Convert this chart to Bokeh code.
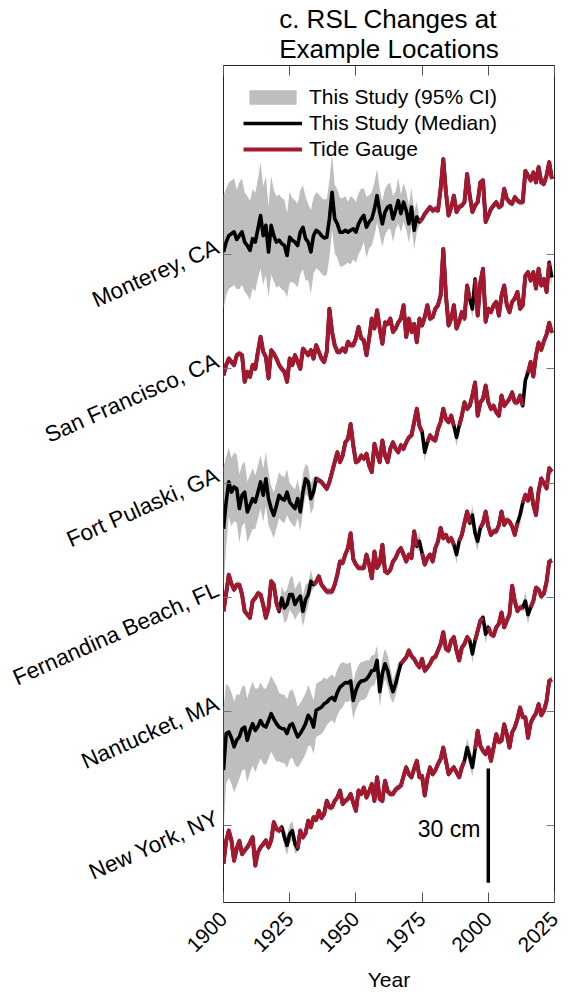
import numpy as np
from math import pi, radians
from bokeh.plotting import figure
from bokeh.models import Range1d, LinearAxis, FixedTicker, Label, Legend, LegendItem
from bokeh.embed import file_html
from bokeh.resources import INLINE

# ---------------- data ----------------
years = list(range(1900, 2025))
x_ticks = [1900, 1925, 1950, 1975, 2000, 2025]
locations = ["Monterey, CA", "San Francisco, CA", "Fort Pulaski, GA",
             "Fernandina Beach, FL", "Nantucket, MA", "New York, NY"]
offsets_cm = [150, 120, 90, 60, 30, 0]

# RSL (cm, relative to each location's baseline), 1900-2024
monterey_rsl = [
    0.7, 3.3, 5.0, 5.5, 6.0, 4.0, 5.0, 6.0, 3.3, 2.4,
    1.1, 4.2, 3.3, 6.8, 10.3, 5.0, 7.7, 0.7, 7.7, 5.0,
    3.3, 3.8, 2.9, 2.4, -0.2, 4.6, 3.8, 3.3, 2.4, 5.9,
    7.2, 4.2, 3.3, 0.7, 5.0, 6.4, 5.9, 5.0, 4.4, 4.6,
    9.4, 16.4, 9.4, 8.1, 5.9, 5.9, 6.4, 5.9, 6.4, 6.8,
    5.9, 8.1, 9.4, 10.3, 7.2, 8.6, 9.4, 12.0, 15.5, 11.2,
    8.1, 11.2, 12.5, 12.9, 9.4, 11.6, 14.2, 10.8, 13.8, 11.6,
    8.1, 12.5, 6.4, 9.9, 8.6, 9.4, 10.7, 11.6, 12.5, 11.6,
    12.0, 11.6, 17.3, 25.1, 16.4, 10.3, 12.5, 15.5, 11.2, 12.5,
    12.9, 13.8, 21.2, 15.5, 11.2, 12.9, 13.8, 19.0, 19.5, 8.6,
    10.3, 12.0, 12.9, 13.8, 12.5, 12.9, 17.3, 14.7, 13.8, 13.4,
    15.1, 14.2, 13.8, 13.8, 22.0, 20.8, 19.5, 21.6, 19.0, 23.0,
    19.0, 18.6, 20.8, 24.3, 19.9]
san_francisco_rsl = [
    -1.7, 1.0, 2.7, 1.8, 1.0, 3.6, 4.0, 3.6, -3.4, -0.8,
    -2.1, 1.0, 0.0, 4.5, 8.4, 4.5, 3.1, -2.5, 4.9, 4.0,
    2.7, 1.0, 0.0, -0.8, -3.4, 2.7, 1.0, 3.6, 1.8, 0.0,
    5.3, 4.5, 3.6, 4.9, 2.7, 6.2, 4.5, 2.7, 1.8, 4.5,
    15.8, 9.7, 6.2, 4.5, 4.5, 5.3, 4.5, 7.1, 6.2, 6.2,
    8.0, 11.0, 8.0, 7.5, 3.6, 8.0, 13.2, 10.6, 15.4, 10.6,
    6.6, 12.2, 11.8, 13.2, 9.7, 10.6, 12.2, 13.2, 16.7, 8.4,
    13.2, 9.7, 11.8, 7.0, 13.2, 11.4, 13.6, 16.7, 13.2, 13.6,
    15.8, 16.7, 19.3, 31.5, 19.3, 11.4, 13.2, 16.7, 10.6, 12.4,
    14.9, 13.2, 21.9, 18.3, 15.7, 23.6, 14.0, 22.7, 26.3, 12.4,
    15.8, 14.9, 16.7, 17.6, 14.0, 19.3, 21.9, 16.7, 14.9, 17.6,
    18.5, 20.2, 15.8, 16.7, 24.5, 25.4, 23.2, 25.4, 21.1, 26.3,
    21.9, 23.6, 20.2, 28.0, 24.0]
fort_pulaski_rsl = [
    -12.0, -5.0, 0.3, -2.4, -1.0, -1.5, -6.7, -3.2, -2.4, -7.6,
    -5.9, -4.1, -5.0, -2.4, 0.3, -3.2, 1.1, -4.1, -6.7, -8.5,
    -5.9, -3.2, -4.1, -4.5, -2.4, -5.0, -5.9, -6.7, -4.1, -7.6,
    -2.4, 1.1, 0.3, -4.1, -2.4, 1.1, 0.7, 0.3, -0.6, -1.5,
    0.3, 2.9, 5.5, 8.1, 5.5, 7.2, 10.7, 11.6, 15.5, 9.9,
    5.5, 5.9, 7.2, 6.4, 7.7, 4.6, 2.9, 10.3, 7.7, 5.5,
    11.2, 7.2, 5.5, 9.0, 10.7, 9.0, 8.1, 9.9, 9.0, 10.7,
    12.0, 12.5, 16.0, 19.5, 15.0, 13.4, 8.1, 10.7, 12.5, 11.6,
    11.2, 14.2, 16.0, 19.5, 16.8, 16.0, 17.7, 15.0, 12.0, 15.0,
    17.7, 21.2, 19.5, 20.3, 23.0, 26.4, 17.7, 21.2, 22.1, 25.6,
    21.2, 19.5, 20.3, 18.6, 17.7, 23.0, 20.3, 21.2, 22.1, 23.8,
    21.2, 21.2, 23.0, 20.3, 27.0, 29.0, 31.8, 28.0, 33.5, 36.9,
    35.0, 37.3, 39.0, 42.1, 39.5]
fernandina_rsl = [
    -3.7, 1.0, 5.9, 3.5, 2.0, 3.3, 3.3, 0.7, -3.7, -4.5,
    -5.4, -1.0, -0.2, 1.0, 0.7, -2.0, -5.4, -2.8, 4.2, 3.3,
    -1.5, -3.7, -0.2, -2.8, -1.9, 0.7, 0.7, -1.9, -0.6, 0.3,
    -3.7, -0.6, 0.7, 4.2, 3.3, 4.0, 5.5, 3.3, 2.4, 1.5,
    1.5, 1.5, 3.3, 6.0, 9.4, 9.0, 11.2, 12.9, 16.8, 10.0,
    8.6, 7.7, 7.7, 7.7, 11.2, 8.6, 5.0, 12.0, 7.7, 9.0,
    13.8, 6.8, 6.4, 7.2, 9.4, 10.3, 12.0, 12.9, 11.2, 9.4,
    11.2, 10.3, 17.3, 13.4, 14.7, 11.6, 8.6, 10.3, 11.2, 9.4,
    12.9, 14.7, 18.2, 15.5, 16.4, 14.7, 15.5, 13.8, 11.2, 14.7,
    16.4, 19.5, 22.5, 19.5, 21.6, 16.8, 14.7, 18.2, 19.5, 22.5,
    18.6, 16.4, 17.3, 17.3, 19.0, 22.5, 19.0, 20.3, 19.9, 18.6,
    16.4, 19.5, 21.6, 24.7, 26.9, 25.4, 28.6, 24.3, 21.6, 27.8,
    31.2, 29.9, 28.6, 33.9, 33.0]
nantucket_rsl = [
    -15.4, -5.8, -5.4, -7.0, -9.3, -7.5, -6.7, -4.6, -4.1, -7.6,
    -5.0, -3.2, -5.0, -4.0, -2.4, -3.7, -4.1, -2.4, -0.6, -2.0,
    -3.2, -4.1, -4.5, -4.6, -5.8, -3.7, -3.2, -5.0, -6.7, -5.8,
    -4.6, -3.2, -1.0, -2.0, -4.1, 0.3, 0.7, 1.1, 2.0, 2.4,
    3.2, 3.7, 2.9, 5.0, 6.4, 7.0, 7.6, 7.5, 8.0, 2.9,
    5.5, 7.2, 8.0, 8.1, 8.5, 9.4, 10.7, 10.8, 13.4, 5.2,
    10.0, 12.5, 10.7, 7.5, 5.2, 7.2, 10.0, 12.5, 13.4, 14.2,
    16.0, 14.5, 13.8, 12.5, 11.6, 13.8, 10.7, 11.5, 12.5, 14.0,
    14.3, 16.0, 17.7, 20.8, 16.4, 16.0, 18.6, 19.5, 16.0, 13.4,
    16.8, 17.7, 19.5, 18.6, 15.1, 18.6, 21.2, 23.8, 24.7, 20.3,
    22.1, 20.3, 19.9, 22.1, 23.0, 26.0, 22.1, 23.8, 25.5, 33.0,
    29.0, 26.4, 27.3, 27.3, 29.0, 25.4, 27.3, 29.0, 32.5, 32.0,
    30.2, 31.0, 34.0, 39.3, 39.7]
new_york_rsl = [
    -10.0, -4.0, -1.3, -3.9, -9.2, -6.0, -4.0, -7.5, -6.5, -5.7,
    -4.4, -3.0, -10.5, -7.0, -5.7, -4.9, -3.9, -5.7, -3.9, 0.9,
    -0.9, -1.3, -0.4, -3.1, -5.2, -2.2, -1.3, -4.8, -6.1, -1.3,
    -3.1, -2.0, 1.3, -0.4, 2.2, 1.5, 3.9, 2.0, 3.1, 6.5,
    4.8, 4.8, 6.5, 7.4, 9.2, 5.7, 6.5, 7.0, 8.3, 6.0,
    3.9, 9.2, 8.3, 10.0, 7.4, 9.0, 10.9, 6.5, 12.7, 7.0,
    6.5, 11.8, 9.0, 8.3, 8.3, 9.5, 10.0, 10.5, 13.0, 15.3,
    13.5, 12.7, 15.0, 17.0, 12.7, 13.0, 7.9, 12.5, 15.3, 13.5,
    14.5, 16.2, 17.5, 20.5, 17.0, 13.5, 14.5, 15.3, 14.0, 12.7,
    15.3, 17.0, 20.5, 18.0, 15.3, 20.0, 24.9, 21.0, 19.6, 18.8,
    20.5, 17.0, 20.5, 24.0, 22.0, 22.3, 26.6, 24.0, 20.5, 24.5,
    25.8, 28.0, 31.0, 28.5, 28.4, 23.1, 27.0, 28.4, 29.5, 31.9,
    29.0, 30.2, 32.7, 38.0, 38.4]

# tide-gauge coverage (inclusive year spans)
monterey_gauge = [(1974, 2024)]
san_francisco_gauge = [(1900, 1993), (1995, 2023)]
fort_pulaski_gauge = [(1935, 1975), (1977, 1987), (1989, 2013), (2015, 2024)]
fernandina_gauge = [(1900, 1921), (1934, 1973), (1975, 1987), (1989, 1993),
                    (1997, 2011), (2013, 2024)]
nantucket_gauge = [(1967, 1993), (1995, 1998), (2000, 2013), (2016, 2024)]
new_york_gauge = [(1900, 1922), (1928, 1991), (1995, 2024)]

# 95% CI half-widths (cm) where the model has no tide-gauge constraint
monterey_ci_from_1900 = [
    15, 14, 14, 14, 14, 13, 14, 14, 13, 13,
    13, 13, 13, 13, 14, 13, 13, 12, 13, 12,
    12, 12, 12, 12, 11, 12, 11, 11, 11, 11,
    11, 11, 10, 11, 10, 10, 10, 10, 10, 10,
    10, 10, 9, 9, 9, 9, 9, 8, 9, 8,
    8, 8, 8, 7, 8, 7, 7, 7, 7, 6,
    6, 6, 6, 6, 6, 5, 6, 5, 5, 5,
    5, 5, 5, 4]
fort_pulaski_ci_from_1900 = [
    16, 12, 9, 9, 9, 9, 9, 8, 8, 8,
    8, 8, 7, 7, 7, 7, 7, 7, 6, 6,
    6, 6, 6, 6, 6, 5, 5, 5, 5, 5,
    5, 4, 4, 4, 4]
fernandina_ci_from_1922 = [3, 4, 4, 4, 5, 4, 4, 4, 4, 4, 3, 3]
nantucket_ci_from_1900 = [
    16, 13, 12, 12, 12, 12, 11, 11, 11, 11,
    11, 11, 11, 10, 10, 10, 10, 10, 10, 10,
    10, 9, 9, 9, 9, 9, 9, 9, 8, 8,
    8, 8, 8, 7, 7, 7, 7, 7, 7, 6,
    6, 6, 6, 6, 6, 6, 5, 5, 5, 5,
    5, 5, 5, 5, 5, 4, 4, 4, 4, 4,
    4, 4, 4, 4, 3, 3, 3]
ci_gauge_cm = 0.9
ci_gap_cm = 2.5

scale_bar_year = 2000
scale_bar_cm = 30

# ---------------- style ----------------
FONT = "Liberation Sans"
RED = "#A3172F"
GRAY = "#BEBEBE"

yrs = np.array(years)


def mask_from(spans):
    m = np.zeros(len(yrs), dtype=bool)
    for a, b in spans:
        m[(yrs >= a) & (yrs <= b)] = True
    return m


rsl_all = [monterey_rsl, san_francisco_rsl, fort_pulaski_rsl,
           fernandina_rsl, nantucket_rsl, new_york_rsl]
gauge_all = [monterey_gauge, san_francisco_gauge, fort_pulaski_gauge,
             fernandina_gauge, nantucket_gauge, new_york_gauge]
ci_explicit = [[(1900, monterey_ci_from_1900)], [],
               [(1900, fort_pulaski_ci_from_1900)],
               [(1922, fernandina_ci_from_1922)],
               [(1900, nantucket_ci_from_1900)], []]

X0, X1 = 1900, 2025
Y0, Y1 = -20.2, 199.7
p = figure(width=571, height=997,
           x_range=Range1d(X0, X1), y_range=Range1d(Y0, Y1),
           output_backend="svg", toolbar_location=None,
           x_axis_location=None, y_axis_location=None,
           min_border_left=221, min_border_right=17,
           min_border_top=62, min_border_bottom=95)
p.grid.visible = False
p.outline_line_color = "#222222"
p.outline_line_width = 1
p.background_fill_color = "white"
p.border_fill_color = "white"

# title
p.title.text = "c. RSL Changes at\nExample Locations"
p.title.align = "center"
p.title.text_font = FONT
p.title.text_font_size = "26px"
p.title.text_font_style = "normal"
p.title.text_color = "black"
p.title.text_line_height = 1.02
p.title.standoff = 2

ci_rs, med_rs, tg_rs = [], [], []
for rsl, spans, expl, off in zip(rsl_all, gauge_all, ci_explicit, offsets_cm):
    r = np.array(rsl, dtype=float)
    assert len(r) == len(yrs)
    m = mask_from(spans)
    hw = np.where(m, ci_gauge_cm, ci_gap_cm).astype(float)
    for start, vals in expl:
        i = start - 1900
        hw[i:i + len(vals)] = vals
    y = r + off
    ci_rs.append(p.varea(x=yrs, y1=y - hw, y2=y + hw, fill_color=GRAY, fill_alpha=1.0))
    med_rs.append((yrs, y))
    tg_rs.append((yrs, np.where(m, y, np.nan)))

med_renderers = []
for x, y in med_rs:
    med_renderers.append(p.line(x, y, line_color="black", line_width=3.6, line_join="round"))
tg_renderers = []
for x, y in tg_rs:
    tg_renderers.append(p.line(x, y, line_color=RED, line_width=4.0, line_join="round"))

# scale bar
p.segment(x0=[scale_bar_year], y0=[-scale_bar_cm / 2], x1=[scale_bar_year], y1=[scale_bar_cm / 2],
          line_color="black", line_width=3.5)
p.add_layout(Label(x=scale_bar_year, y=-0.8, x_offset=-8, text=f"{scale_bar_cm} cm",
                   text_align="right", text_baseline="middle",
                   text_font=FONT, text_font_size="23px", text_color="black"))

# axes
tick_color = "#555555"
blank_x = {t: "" for t in x_ticks}
blank_y = {t: "" for t in offsets_cm}

xaxis = LinearAxis(ticker=FixedTicker(ticks=x_ticks), axis_label="Year",
                   major_label_orientation=pi / 4,
                   major_tick_in=10, major_tick_out=0, minor_tick_in=0, minor_tick_out=0,
                   axis_line_color=None, major_tick_line_color=tick_color,
                   major_label_text_font=FONT, major_label_text_font_size="21px",
                   major_label_text_color="black",
                   axis_label_text_font=FONT, axis_label_text_font_size="21px",
                   axis_label_text_font_style="normal", axis_label_text_color="black",
                   major_label_standoff=13, axis_label_standoff=7)
p.add_layout(xaxis, "below")

xaxis_top = LinearAxis(ticker=FixedTicker(ticks=x_ticks), major_label_overrides=blank_x,
                       major_tick_in=10, major_tick_out=0, minor_tick_in=0, minor_tick_out=0,
                       axis_line_color=None, major_tick_line_color=tick_color,
                       major_label_text_font_size="1px", major_label_standoff=0)
p.add_layout(xaxis_top, "above")

# left: tick marks
yaxis_ticks = LinearAxis(ticker=FixedTicker(ticks=offsets_cm), major_label_overrides=blank_y,
                         major_tick_in=8, major_tick_out=0, minor_tick_in=0, minor_tick_out=0,
                         axis_line_color=None, major_tick_line_color="#777777",
                         major_label_text_font_size="1px", major_label_standoff=0)
p.add_layout(yaxis_ticks, "left")

# left: location names as rotated tick labels (placed MATLAB-style, slightly raised)
raise_cm = 9 / 3.82
p.extra_y_ranges = {"ylab": Range1d(Y0 - raise_cm, Y1 - raise_cm)}
yaxis = LinearAxis(y_range_name="ylab", ticker=FixedTicker(ticks=offsets_cm),
                   major_label_overrides=dict(zip(offsets_cm, locations)),
                   major_label_orientation=radians(24),
                   major_tick_in=0, major_tick_out=0, minor_tick_in=0, minor_tick_out=0,
                   axis_line_color=None, major_tick_line_color=None,
                   major_label_text_font=FONT, major_label_text_font_size="22.5px",
                   major_label_text_color="black", major_label_standoff=6)
p.add_layout(yaxis, "left")

yaxis_r = LinearAxis(ticker=FixedTicker(ticks=offsets_cm), major_label_overrides=blank_y,
                     major_tick_in=8, major_tick_out=0, minor_tick_in=0, minor_tick_out=0,
                     axis_line_color=None, major_tick_line_color="#777777",
                     major_label_text_font_size="1px", major_label_standoff=0)
p.add_layout(yaxis_r, "right")

legend = Legend(items=[LegendItem(label="This Study (95% CI)", renderers=[ci_rs[0]]),
                       LegendItem(label="This Study (Median)", renderers=[med_renderers[0]]),
                       LegendItem(label="Tide Gauge", renderers=[tg_renderers[0]])],
                location="top_left", border_line_color=None, background_fill_alpha=0,
                label_text_font=FONT, label_text_font_size="21px", label_text_color="black",
                glyph_width=59, glyph_height=18, label_standoff=7, spacing=2,
                padding=0, margin=20)
p.add_layout(legend)

open("out.html", "w").write(file_html(p, INLINE))
